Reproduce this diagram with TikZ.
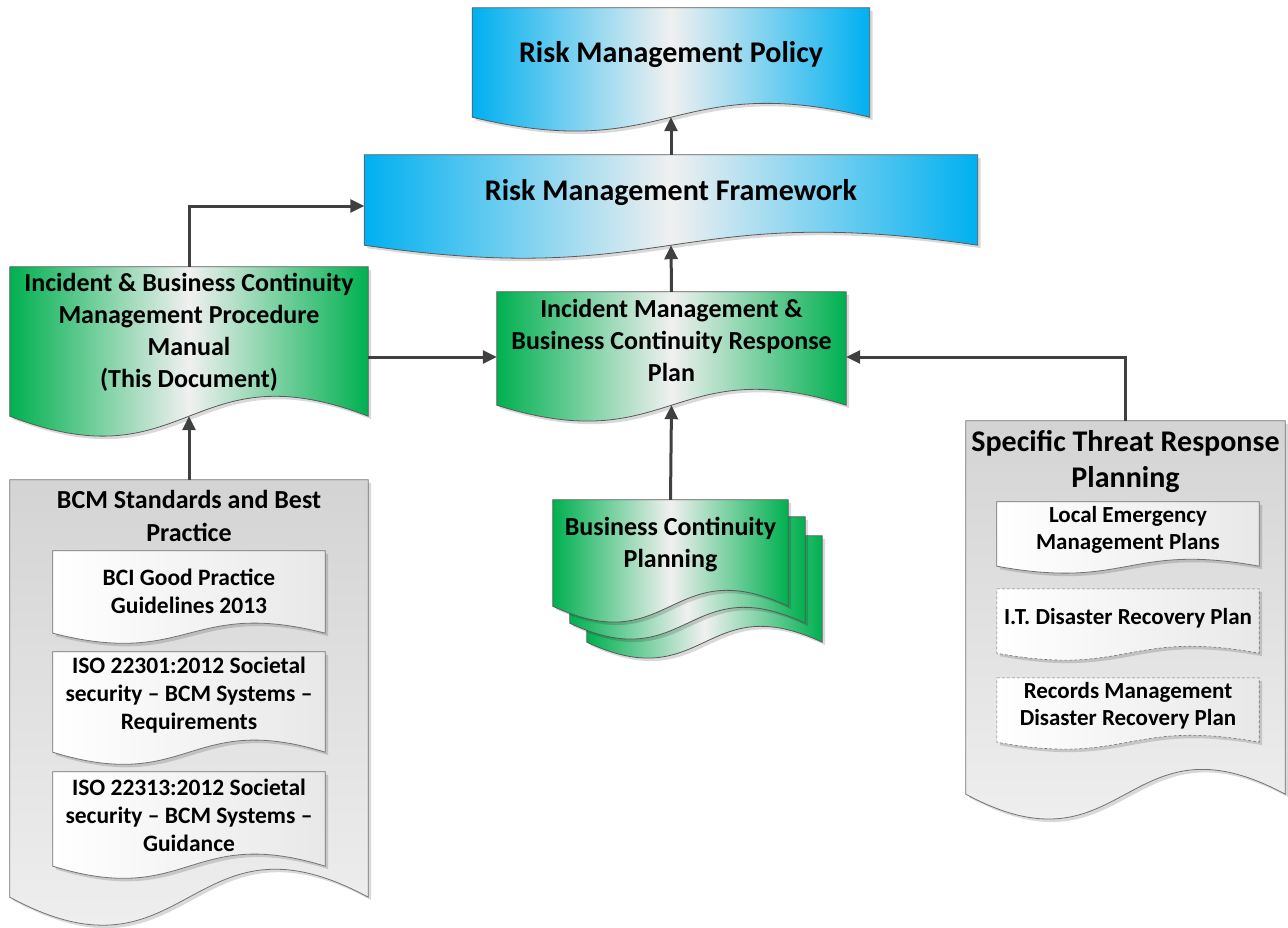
\documentclass[tikz,border=0pt]{standalone}
\usepackage{fontspec}
\setmainfont{Carlito}
\usetikzlibrary{arrows.meta,calc,backgrounds,shadows}

\definecolor{docblue}{RGB}{0,176,240}
\definecolor{docgreen}{RGB}{0,176,80}
\definecolor{docmid}{RGB}{240,240,240}
\definecolor{linkgray}{RGB}{64,64,64}

\tikzset{
  doc/.style={align=center, inner sep=0pt},
  bigtxt/.style={font=\fontsize{30}{36}\selectfont\bfseries},
  midtxt/.style={font=\fontsize{26}{32}\selectfont\bfseries},
  smalltxt/.style={font=\fontsize{23.5}{28}\selectfont\bfseries},
  docline/.style={draw=black!65, line width=.8pt,
    drop shadow={shadow xshift=3pt, shadow yshift=-3pt, fill=black, opacity=.15}},
  bluedoc/.style={docline, left color=docblue, right color=docblue, middle color=docmid},
  greendoc/.style={docline, left color=docgreen, right color=docgreen, middle color=docmid},
  graydoc/.style={docline, draw=black!55, top color=black!17, bottom color=black!5},
  whitedoc/.style={docline, draw=black!55, left color=white, right color=black!9},
  dashdoc/.style={whitedoc, dash pattern=on 3pt off 2pt, line width=.6pt},
  link/.style={draw=linkgray, line width=3pt, -{Triangle[length=14pt,width=13pt]}}
}

% style, node, wave, drop below node
\newcommand\docbg[4]{%
  \path[#1] let \p1=(#2.north west), \p2=(#2.south east) in
    (\x1,\y1) -- (\x2,\y1) -- (\x2,\y2-#4)
    .. controls ({0.5*\x1+0.5*\x2},{\y2-#4+#3}) and ({0.5*\x1+0.5*\x2},{\y2-#4-#3}) .. (\x1,\y2-#4) -- cycle;
  \coordinate (#2-b) at ([yshift=-#4]#2.south);}

\begin{document}
\begin{tikzpicture}[x=1pt, y=-1pt]
\useasboundingbox (0,0) rectangle (1288,927);

\node[doc, bigtxt, minimum width=397pt, minimum height=94pt] (pol) at (671,55) {Risk Management Policy};
\node[doc, bigtxt, minimum width=613pt, minimum height=76pt] (frm) at (671,193) {Risk Management Framework};
\node[doc, midtxt, minimum width=358pt, minimum height=130pt] (man) at (189,332)
  {Incident \& Business Continuity\\Management Procedure\\Manual\\(This Document)};
\node[doc, midtxt, minimum width=349pt, minimum height=96pt] (plan) at (671.5,340)
  {Incident Management \&\\Business Continuity Response\\Plan};
\node[doc, midtxt, minimum width=235pt, minimum height=90pt] (bcp) at (670.5,545) {Business Continuity\\Planning};
\node[doc, minimum width=235pt, minimum height=90pt] (bcp2) at (687.5,562) {};
\node[doc, minimum width=235pt, minimum height=90pt] (bcp3) at (704.5,581) {};

\node[doc, minimum width=358pt, minimum height=417pt] (bcm) at (189,688.5) {};
\node[doc, font=\fontsize{26}{33}\selectfont\bfseries] (bcmt) at (189,515.5) {BCM Standards and Best\\Practice};
\node[doc, smalltxt, minimum width=272pt, minimum height=80pt] (bcm1) at (189,591) {BCI Good Practice\\Guidelines 2013};
\node[doc, smalltxt, minimum width=272pt, minimum height=86pt] (bcm2) at (189,695)
  {ISO 22301:2012 Societal\\security – BCM Systems –\\Requirements};
\node[doc, smalltxt, minimum width=272pt, minimum height=86pt] (bcm3) at (189,815)
  {ISO 22313:2012 Societal\\security – BCM Systems –\\Guidance};

\node[doc, minimum width=319pt, minimum height=373pt] (spec) at (1125.5,607.5) {};
\node[doc, bigtxt] (spect) at (1125.5,461) {Specific Threat Response\\Planning};
\node[doc, minimum width=262pt, minimum height=56pt, font=\fontsize{23}{27}\selectfont\bfseries] (spec1) at (1128,530)
  {Local Emergency\\Management Plans};
\node[doc, minimum width=262pt, minimum height=58pt, font=\fontsize{23}{27}\selectfont\bfseries] (spec2) at (1128,618) {I.T. Disaster Recovery Plan};
\node[doc, minimum width=262pt, minimum height=56pt, font=\fontsize{23}{27}\selectfont\bfseries] (spec3) at (1128,706)
  {Records Management\\Disaster Recovery Plan};

\begin{pgfonlayer}{background}
  \docbg{graydoc}{bcm}{97pt}{0pt}
  \docbg{graydoc}{spec}{86pt}{0pt}
  \docbg{whitedoc}{bcm1}{35pt}{2pt}
  \docbg{whitedoc}{bcm2}{42pt}{14pt}
  \docbg{whitedoc}{bcm3}{42pt}{8pt}
  \docbg{whitedoc}{spec1}{24pt}{8pt}
  \docbg{dashdoc}{spec2}{24pt}{6pt}
  \docbg{dashdoc}{spec3}{24pt}{8pt}
  \docbg{greendoc}{bcp3}{55pt}{16pt}
  \docbg{greendoc}{bcp2}{55pt}{16pt}
  \docbg{greendoc}{bcp}{55pt}{16pt}
  \docbg{bluedoc}{pol}{48pt}{15pt}
  \docbg{bluedoc}{frm}{45pt}{14pt}
  \docbg{greendoc}{man}{69pt}{19pt}
  \docbg{greendoc}{plan}{55pt}{17pt}
\end{pgfonlayer}

\coordinate (plan-l) at ([yshift=-17pt]plan.west);
\coordinate (plan-r) at ([yshift=-17pt]plan.east);
\draw[link] (frm.north) -- (pol-b);
\draw[link] (plan.north) -- (frm-b);
\draw[link] (man.north) |- ([yshift=-13pt]frm.west);
\draw[link] (man.east |- plan-l) -- (plan-l);
\draw[link] (spec.north) |- (plan-r);
\draw[link] (bcm.north) -- (man-b);
\draw[link] (bcp.north) -- (plan-b);
\end{tikzpicture}
\end{document}
